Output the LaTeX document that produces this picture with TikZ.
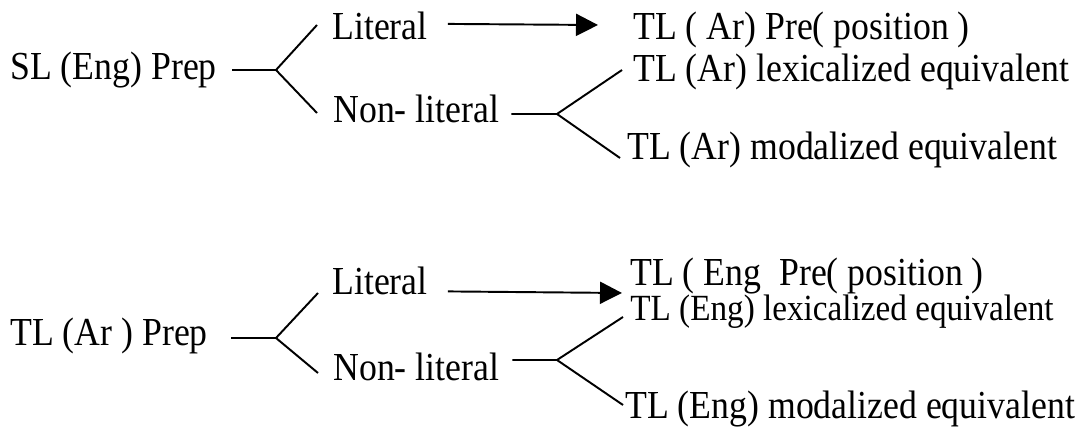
\documentclass[tikz,border=0pt]{standalone}
\usepackage{fontspec}
\setmainfont{Liberation Serif}[FakeStretch=0.9]
\usepackage{tikz}
\usetikzlibrary{arrows.meta}
\usetikzlibrary{positioning}
\tikzset{
    lbl/.style={
           inner sep=0pt,
           anchor=base west,
           font=\fontsize{22.6}{26}\selectfont,
           },
    fork/.style={line width=1.1pt},
    arr/.style={-{Triangle[length=0.44cm,width=0.44cm]},line width=1.1pt},
}

\begin{document}
\begin{tikzpicture}[x=0.02cm,y=-0.02cm]
  \useasboundingbox (0,0) rectangle (1086,429);

  % upper tree (English source)
  \node[lbl] (sl)     at (10,80)   {SL (Eng) Prep};
  \node[lbl] (lit)    at (332,40)  {Literal};
  \node[lbl] (nonlit) at (333,123) {Non- literal};
  \node[lbl] (tlpre)  at (633,40)  {TL ( Ar) Pre( position )};
  \node[lbl] (tllex)  at (633,82)  {TL (Ar) lexicalized equivalent};
  \node[lbl] (tlmod)  at (627,160) {TL (Ar) modalized equivalent};

  \coordinate (fa) at (276,70);
  \coordinate (fb) at (557,114);
  \coordinate (arA) at (598,25);

  \draw[fork] ([xshift=0.3cm]sl.east |- fa) -- (fa) -- (317,25);
  \draw[fork] (fa) -- (317,113);
  \draw[arr] ([xshift=0.4cm,yshift=0.05cm]lit.east) -- (arA);
  \draw[fork] ([xshift=0.24cm]nonlit.east |- fb) -- (fb) -- (622,70);
  \draw[fork] (fb) -- (620,158);

  % lower tree (Arabic source)
  \node[lbl] (bsl)     at (10,345)  {TL (Ar ) Prep};
  \node[lbl] (blit)    at (332,295) {Literal};
  \node[lbl] (bnonlit) at (333,380) {Non- literal};
  \node[lbl] (btlpre)  at (630,285) {TL ( Eng~ Pre( position )};
  \node[lbl,font=\fontsize{21}{24}\selectfont] (btllex) at (630,320) {TL (Eng) lexicalized equivalent};
  \node[lbl] (btlmod)  at (625,418) {TL (Eng) modalized equivalent};

  \coordinate (fc) at (276,338);
  \coordinate (fd) at (557,360);
  \coordinate (arB) at (622,293);

  \draw[fork] ([xshift=0.46cm]bsl.east |- fc) -- (fc) -- (318,293);
  \draw[fork] (fc) -- (318,373);
  \draw[arr] ([xshift=0.4cm,yshift=-0.2cm]blit.east) -- (arB);
  \draw[fork] ([xshift=0.26cm]bnonlit.east |- fd) -- (fd) -- (623,317);
  \draw[fork] (fd) -- (623,405);
\end{tikzpicture}
\end{document}
